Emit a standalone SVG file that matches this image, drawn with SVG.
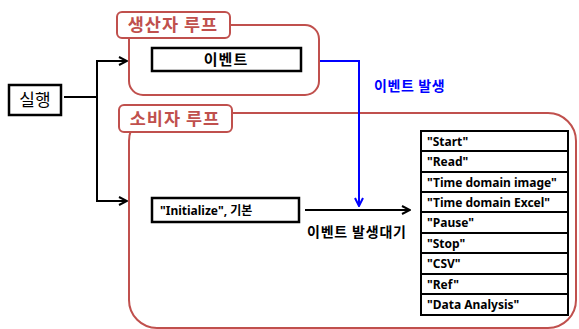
<svg xmlns="http://www.w3.org/2000/svg" width="579" height="329" viewBox="0 0 579 329">
<defs>
<marker id="ah" viewBox="0 0 10 10" refX="9" refY="5" markerWidth="10" markerHeight="10" markerUnits="userSpaceOnUse" orient="auto"><path d="M1,1 L9,5 L1,9" fill="none" stroke="#000" stroke-width="2"/></marker>
<marker id="ahb" viewBox="0 0 10 10" refX="9" refY="5" markerWidth="10" markerHeight="10" markerUnits="userSpaceOnUse" orient="auto"><path d="M1,1 L9,5 L1,9" fill="none" stroke="#0000ff" stroke-width="2"/></marker>
<style>
.loop{fill:#fff;stroke:#c0504d;stroke-width:2}
.ttl{fill:#fff;stroke:#c0504d;stroke-width:2}
.tt{font-family:"Noto Sans CJK KR",sans-serif;font-weight:bold;font-size:17.5px;letter-spacing:1px;fill:#c0504d}
.box{fill:#fff;stroke:#000;stroke-width:2.5}
.row{fill:#fff;stroke:#000;stroke-width:2}
.k{font-family:"Noto Sans CJK KR",sans-serif;font-weight:bold;fill:#000}
.e{font-family:"Noto Sans","Noto Sans CJK KR",sans-serif;font-weight:bold;font-size:12px;fill:#000}
.ln{fill:none;stroke:#000;stroke-width:2}
</style>
</defs>
<g id="consumer-loop">
<rect class="loop" x="129" y="113" width="447" height="215" rx="28"/>
</g>
<g id="producer-loop">
<rect class="loop" x="129" y="25" width="190" height="70" rx="14"/>
</g>
<g id="connectors">
<polyline class="ln" points="64,97 97,97"/>
<polyline class="ln" points="97,201 97,61 127,61" marker-end="url(#ah)"/>
<polyline class="ln" points="97,120 97,201 127,201" marker-end="url(#ah)"/>
<polyline fill="none" stroke="#0000ff" stroke-width="2" points="320,61 359,61 359,206" marker-end="url(#ahb)"/>
<line class="ln" x1="305" y1="210" x2="410" y2="210" marker-end="url(#ah)"/>
<text x="374" y="91" font-family="'Noto Sans CJK KR',sans-serif" font-weight="bold" font-size="14" letter-spacing="0.6" fill="#0000ff">이벤트 발생</text>
<text class="k" x="307" y="237" font-size="14" letter-spacing="0.8">이벤트 발생대기</text>
</g>
<g id="producer-title">
<rect class="ttl" x="117" y="12" width="113" height="26" rx="5"/>
<text class="tt" x="173" y="31" text-anchor="middle">생산자 루프</text>
</g>
<g id="consumer-title">
<rect class="ttl" x="119" y="105" width="113" height="27" rx="5"/>
<text class="tt" x="175" y="125" text-anchor="middle">소비자 루프</text>
</g>
<g id="run">
<rect class="box" x="9" y="85" width="52" height="30"/>
<text x="35" y="106" text-anchor="middle" font-family="'Noto Sans CJK KR',sans-serif" font-size="17" fill="#000">실행</text>
</g>
<g id="event">
<rect class="box" x="152" y="48" width="149" height="23"/>
<text class="k" x="226" y="65" text-anchor="middle" font-size="15" letter-spacing="1">이벤트</text>
</g>
<g id="initialize">
<rect class="box" x="152" y="198" width="147" height="24"/>
<text class="e" x="160" y="215">"Initialize", 기본</text>
</g>
<g id="event-list">
<rect class="row" x="421" y="131" width="147" height="20"/><text class="e" x="427" y="146">"Start"</text>
<rect class="row" x="421" y="151" width="147" height="21"/><text class="e" x="427" y="166">"Read"</text>
<rect class="row" x="421" y="172" width="147" height="20"/><text class="e" x="427" y="187">"Time domain image"</text>
<rect class="row" x="421" y="192" width="147" height="20"/><text class="e" x="427" y="207">"Time domain Excel"</text>
<rect class="row" x="421" y="212" width="147" height="21"/><text class="e" x="427" y="227">"Pause"</text>
<rect class="row" x="421" y="233" width="147" height="20"/><text class="e" x="427" y="248">"Stop"</text>
<rect class="row" x="421" y="253" width="147" height="21"/><text class="e" x="427" y="268">"CSV"</text>
<rect class="row" x="421" y="274" width="147" height="20"/><text class="e" x="427" y="289">"Ref"</text>
<rect class="row" x="421" y="294" width="147" height="21"/><text class="e" x="427" y="309">"Data Analysis"</text>
</g>
</svg>
